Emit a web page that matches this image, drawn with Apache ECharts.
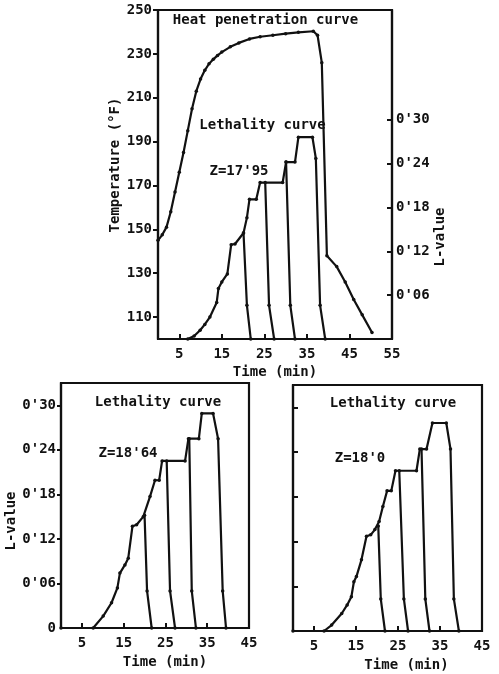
<!DOCTYPE html>
<html>
<head>
<meta charset="utf-8">
<script src="https://cdn.jsdelivr.net/npm/echarts@6/dist/echarts.min.js"></script>
<style>
html,body{margin:0;padding:0;background:#fff;}
#c{width:499px;height:674px;}
</style>
</head>
<body>
<div id="c"></div>
<script>
// ---------- data ----------
const topTimeTicks = [5, 15, 25, 35, 45, 55];
const bottomTimeTicks = [5, 15, 25, 35, 45];
const tempTicks = [110, 130, 150, 170, 190, 210, 230, 250];
const lTicksTop = [0.06, 0.12, 0.18, 0.24, 0.30];
const lTicksBottom = [0, 0.06, 0.12, 0.18, 0.24, 0.30];

// heat penetration curve (time min, temperature °F)
const heatCurve = [[0,145],[1,147.5],[2,151],[3,158],[4,167],[5,176],[6,185],[7,195],[8,205],[9,213],[10,218.5],[11,222.5],[12,225.5],[13,227.5],[14,229.3],[15,230.8],[17,233.2],[19,235],[21.5,236.8],[24,237.8],[27,238.5],[30,239.2],[33,239.8],[36.5,240.3],[37.5,238.5],[38.5,226],[39.7,138],[42,133],[44,126],[46,118],[48,111],[50.3,103]];

// lethality, Z = 17.95 (top)
const leth1795 = [[7,0],[8.5,0.004],[9.9,0.012],[11,0.02],[12.2,0.03],[13.8,0.05],[14.2,0.069],[15,0.078],[16.3,0.089],[17.2,0.129],[18.1,0.13],[20.1,0.145],[20.9,0.166],[21.5,0.191],[23.1,0.191],[24,0.214],[29.3,0.214],[30.1,0.242],[32.2,0.242],[33,0.276],[36.3,0.276],[37.1,0.247],[38.1,0.046],[39.3,0]];
const cool1795a = [[20.1,0.145],[20.9,0.046],[21.8,0]];
const cool1795b = [[25.2,0.214],[26.1,0.046],[27.3,0]];
const cool1795c = [[30.1,0.242],[31.1,0.046],[32.2,0]];

// lethality, Z = 18.64 (bottom left)
const leth1864 = [[0,0],[7.7,0],[10.1,0.016],[12.1,0.034],[13.5,0.054],[14.1,0.074],[15.3,0.085],[16.1,0.094],[17.1,0.137],[18.1,0.139],[19.7,0.15],[21.3,0.177],[22.5,0.199],[23.5,0.199],[24.2,0.225],[29.7,0.225],[30.5,0.255],[33,0.255],[33.7,0.289],[36.4,0.289],[37.6,0.255],[38.7,0.05],[39.5,0]];
const cool1864a = [[20,0.152],[20.6,0.05],[21.7,0]];
const cool1864b = [[25.3,0.225],[26.1,0.05],[27.3,0]];
const cool1864c = [[30.7,0.255],[31.3,0.05],[32.3,0]];

// lethality, Z = 18.0 (bottom right)
const leth180 = [[0,0],[7.4,0],[9.2,0.008],[11.6,0.0235],[12.9,0.035],[13.9,0.046],[14.5,0.066],[15.1,0.073],[16.3,0.0955],[17.5,0.127],[18.5,0.129],[19.5,0.136],[20.5,0.147],[21.4,0.167],[22.4,0.188],[23.4,0.188],[24.4,0.215],[29.4,0.215],[30.2,0.244],[31.8,0.244],[33.2,0.279],[36.5,0.279],[37.5,0.244],[38.3,0.043],[39.5,0]];
const cool180a = [[20.3,0.141],[20.9,0.043],[21.9,0]];
const cool180b = [[25.3,0.215],[26.4,0.043],[27.4,0]];
const cool180c = [[30.6,0.244],[31.5,0.043],[32.5,0]];

// ---------- chart ----------
const FONT = 'DejaVu Sans Mono';
const INK = '#111';
const fmtL = v => v === 0 ? '0' : "0'" + String(Math.round(v * 100)).padStart(2, '0');
const lineStyle = {color: INK, width: 2.2};
const axisLine = {show: true, onZero: false, lineStyle: {color: INK, width: 2.2}};
const lbl = {color: INK, fontFamily: FONT, fontSize: 14, fontWeight: 'bold'};
const nameStyle = extra => Object.assign({color: INK, fontFamily: FONT, fontSize: 14, fontWeight: 'bold'}, extra || {});
const TXT = 'bold 14px "DejaVu Sans Mono"';

function line(data, xi, yi) {
  return {
    type: 'line', data: data, xAxisIndex: xi, yAxisIndex: yi,
    symbol: 'circle', symbolSize: 3.5, showSymbol: true,
    itemStyle: {color: INK}, lineStyle: lineStyle, silent: true, animation: false
  };
}

const chart = echarts.init(document.getElementById('c'), null, {renderer: 'canvas'});
chart.setOption({
  backgroundColor: '#fff',
  animation: false,
  grid: [
    {left: 158, right: 107, top: 10, bottom: 335, show: true, borderColor: INK, borderWidth: 2.2},
    {left: 61, right: 250, top: 383, bottom: 46, show: true, borderColor: INK, borderWidth: 2.2},
    {left: 293, right: 17, top: 385, bottom: 43, show: true, borderColor: INK, borderWidth: 2.2}
  ],
  xAxis: [
    {gridIndex: 0, type: 'value', min: 0, max: 55, axisLine: axisLine,
     axisTick: {inside: true, length: 5, lineStyle: {color: INK, width: 2}, customValues: topTimeTicks},
     axisLabel: Object.assign({margin: 8, customValues: topTimeTicks}, lbl),
     splitLine: {show: false},
     name: 'Time (min)', nameLocation: 'middle', nameGap: 26, nameTextStyle: nameStyle()},
    {gridIndex: 1, type: 'value', min: 0, max: 45, axisLine: axisLine,
     axisTick: {inside: true, length: 5, lineStyle: {color: INK, width: 2}, customValues: bottomTimeTicks},
     axisLabel: Object.assign({margin: 8, customValues: bottomTimeTicks}, lbl),
     splitLine: {show: false},
     name: 'Time (min)', nameLocation: 'middle', nameGap: 27, nameTextStyle: nameStyle({padding: [0, 0, 0, 20]})},
    {gridIndex: 2, type: 'value', min: 0, max: 45, axisLine: axisLine,
     axisTick: {inside: true, length: 5, lineStyle: {color: INK, width: 2}, customValues: bottomTimeTicks},
     axisLabel: Object.assign({margin: 8, customValues: bottomTimeTicks}, lbl),
     splitLine: {show: false},
     name: 'Time (min)', nameLocation: 'middle', nameGap: 27, nameTextStyle: nameStyle({padding: [0, 0, 0, 38]})}
  ],
  yAxis: [
    {gridIndex: 0, type: 'value', position: 'left', min: 100, max: 250, axisLine: axisLine,
     axisTick: {length: 5, lineStyle: {color: INK, width: 2}, customValues: tempTicks},
     axisLabel: Object.assign({margin: 6, customValues: tempTicks}, lbl),
     splitLine: {show: false},
     name: 'Temperature (°F)', nameLocation: 'middle', nameRotate: 90, nameGap: 36,
     nameTextStyle: nameStyle({padding: [0, 0, 0, 19]})},
    {gridIndex: 0, type: 'value', position: 'right', min: 0, max: 0.45, axisLine: axisLine,
     axisTick: {inside: true, length: 5, lineStyle: {color: INK, width: 2}, customValues: lTicksTop},
     axisLabel: Object.assign({margin: 4, customValues: lTicksTop, formatter: fmtL}, lbl),
     splitLine: {show: false},
     name: 'L-value', nameLocation: 'middle', nameRotate: 90, nameGap: 30,
     nameTextStyle: nameStyle({padding: [0, 125, 0, 0]})},
    {gridIndex: 1, type: 'value', min: 0, max: 0.33, axisLine: axisLine,
     axisTick: {length: 4, lineStyle: {color: INK, width: 2}, customValues: lTicksTop},
     axisLabel: Object.assign({margin: 5, customValues: lTicksBottom, formatter: fmtL}, lbl),
     splitLine: {show: false},
     name: 'L-value', nameLocation: 'middle', nameRotate: 90, nameGap: 36,
     nameTextStyle: nameStyle({padding: [0, 31, 0, 0]})},
    {gridIndex: 2, type: 'value', min: 0, max: 0.33, axisLine: axisLine,
     axisTick: {inside: true, length: 5, lineStyle: {color: INK, width: 2}, customValues: lTicksTop},
     axisLabel: {show: false},
     splitLine: {show: false}}
  ],
  series: [
    line(heatCurve, 0, 0),
    line(leth1795, 0, 1),
    line(cool1795a, 0, 1),
    line(cool1795b, 0, 1),
    line(cool1795c, 0, 1),
    line(leth1864, 1, 2),
    line(cool1864a, 1, 2),
    line(cool1864b, 1, 2),
    line(cool1864c, 1, 2),
    line(leth180, 2, 3),
    line(cool180a, 2, 3),
    line(cool180b, 2, 3),
    line(cool180c, 2, 3)
  ],
  graphic: [
    {type: 'text', x: 265.5, y: 20, style: {text: 'Heat penetration curve', fill: INK, font: TXT, align: 'center', verticalAlign: 'middle'}},
    {type: 'text', x: 262.5, y: 125, style: {text: 'Lethality curve', fill: INK, font: TXT, align: 'center', verticalAlign: 'middle'}},
    {type: 'text', x: 239, y: 171, style: {text: "Z=17'95", fill: INK, font: TXT, align: 'center', verticalAlign: 'middle'}},
    {type: 'text', x: 158, y: 402, style: {text: 'Lethality curve', fill: INK, font: TXT, align: 'center', verticalAlign: 'middle'}},
    {type: 'text', x: 128, y: 453, style: {text: "Z=18'64", fill: INK, font: TXT, align: 'center', verticalAlign: 'middle'}},
    {type: 'text', x: 393, y: 403, style: {text: 'Lethality curve', fill: INK, font: TXT, align: 'center', verticalAlign: 'middle'}},
    {type: 'text', x: 360, y: 458, style: {text: "Z=18'0", fill: INK, font: TXT, align: 'center', verticalAlign: 'middle'}}
  ]
});
</script>
</body>
</html>
